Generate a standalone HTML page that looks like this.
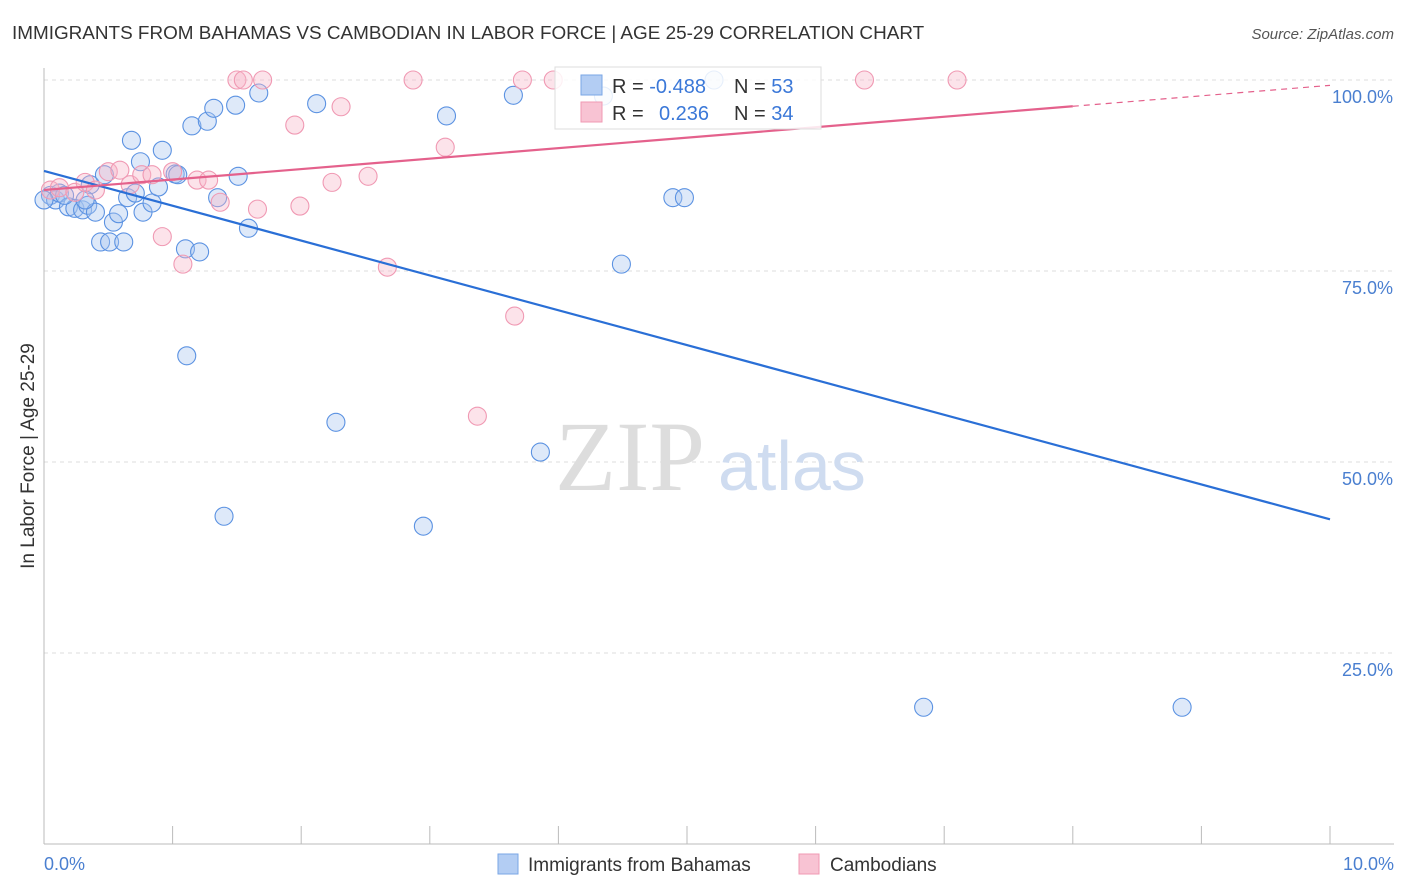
<!DOCTYPE html>
<html><head><meta charset="utf-8"><style>
body{margin:0;background:#fff;font-family:"Liberation Sans",sans-serif;}
svg{display:block}
</style></head><body>
<svg id="chart" width="1406" height="892" xmlns="http://www.w3.org/2000/svg">
<text x="12" y="39" font-size="18.9" fill="#333">IMMIGRANTS FROM BAHAMAS VS CAMBODIAN IN LABOR FORCE | AGE 25-29 CORRELATION CHART</text>
<text x="1394" y="39" font-size="15" fill="#555" font-style="italic" text-anchor="end">Source: ZipAtlas.com</text>
<g id="grid"></g>
<text x="555" y="490" font-size="100" fill="#ddd" font-family="Liberation Serif,serif">ZIP</text>
<text x="718" y="490" font-size="70" fill="#cfdcf0">atlas</text>
<g id="axes"></g>
<g id="marks"></g>
<text x="34" y="456" font-size="19" fill="#333" text-anchor="middle" transform="rotate(-90 34 456)">In Labor Force | Age 25-29</text>
<text x="44" y="870" font-size="18" fill="#4a7fd0">0.0%</text>
<text x="1394" y="870" font-size="18" fill="#4a7fd0" text-anchor="end">10.0%</text>
<g>
<rect x="555" y="67" width="266" height="62" fill="#fff" fill-opacity="0.85" stroke="#ddd"/>
<rect x="581" y="75" width="21" height="20" fill="#b3cdf3" stroke="#7aa6e6"/>
<rect x="581" y="102" width="21" height="20" fill="#f8c3d3" stroke="#f09ab3"/>
<text x="612" y="93" font-size="20" fill="#333">R = <tspan fill="#3b78d8">-0.488</tspan></text>
<text x="734" y="93" font-size="20" fill="#333">N = <tspan fill="#3b78d8">53</tspan></text>
<text x="612" y="120" font-size="20" fill="#333">R = <tspan fill="#3b78d8" x="659">0.236</tspan></text>
<text x="734" y="120" font-size="20" fill="#333">N = <tspan fill="#3b78d8">34</tspan></text>
</g>
<g>
<rect x="498" y="854" width="20" height="20" fill="#b3cdf3" stroke="#7aa6e6"/>
<text x="528" y="871" font-size="19" fill="#333">Immigrants from Bahamas</text>
<rect x="799" y="854" width="20" height="20" fill="#f8c3d3" stroke="#f09ab3"/>
<text x="830" y="871" font-size="19" fill="#333">Cambodians</text>
</g>
</svg>
<script>
const yTicks=[25,50,75,100];
const yTickLabels=["25.0%","50.0%","75.0%","100.0%"];
const xTicks=[0,1,2,3,4,5,6,7,8,9,10];
const blueX=[0.05,0.09,0.12,0.19,0.24,0.30,0.34,0.40,0.36,0.44,0.51,0.62,0.54,0.58,0.47,0.68,0.75,0.65,0.71,0.77,0.84,0.89,0.92,1.02,1.04,1.10,1.21,1.15,1.27,1.32,1.49,1.51,1.59,1.67,1.35,1.11,2.12,2.27,1.40,2.95,3.13,3.65,3.86,4.35,4.49,4.89,4.98,5.21,6.84,8.85,0.16,0.32,0.0];
const blueY=[84.9,84.3,85.2,83.4,83.2,83.0,83.6,82.7,86.3,78.8,78.8,78.8,81.4,82.5,87.6,92.1,89.3,84.6,85.2,82.7,83.9,86.0,90.8,87.7,87.6,77.9,77.5,94.0,94.6,96.3,96.7,87.4,80.6,98.3,84.6,63.9,96.9,55.2,42.9,41.6,95.3,98.0,51.3,97.9,75.9,84.6,84.6,100,17.9,17.9,84.9,84.3,84.3];
const pinkX=[0.05,0.12,0.24,0.32,0.40,0.50,0.59,0.67,0.76,0.84,0.92,1.00,1.08,1.19,1.28,1.37,1.50,1.55,1.66,1.70,1.95,1.99,2.24,2.31,2.52,2.67,2.87,3.12,3.37,3.66,3.72,3.96,6.38,7.10];
const pinkY=[85.6,85.9,85.3,86.6,85.6,88.0,88.2,86.3,87.6,87.6,79.5,88.0,75.9,86.9,86.9,84.0,100,100,83.1,100,94.1,83.5,86.6,96.5,87.4,75.5,100,91.2,56.0,69.1,100,100,100,100];
const blueTrend=[88.1,42.5];
const pinkTrend=[85.6,99.3];
const pinkSolidEnd=8.0;
const NS="http://www.w3.org/2000/svg";
const X=v=>44+v*128.6;
const Y=v=>80+(100-v)*7.64;
function mk(tag,attrs,parent){const e=document.createElementNS(NS,tag);for(const k in attrs)e.setAttribute(k,attrs[k]);parent.appendChild(e);return e;}
const grid=document.getElementById('grid'),axes=document.getElementById('axes'),marks=document.getElementById('marks');
yTicks.forEach((t,i)=>{
 const l=mk('line',{x1:44,x2:1394,y1:Y(t),y2:Y(t),stroke:'#ddd','stroke-dasharray':'4 4'},grid);
 
 
 const tx=mk('text',{x:1393,y:Y(t)+23,'font-size':18,fill:'#4a7fd0','text-anchor':'end'},grid);
 tx.textContent=yTickLabels[i];
 
 
});
const ax=mk('line',{x1:44,x2:1394,y1:844,y2:844,stroke:'#bbb'},axes);


const ay=mk('line',{x1:44,x2:44,y1:68,y2:844,stroke:'#bbb'},axes);


xTicks.forEach(t=>{
 const l=mk('line',{x1:X(t),x2:X(t),y1:826,y2:844,stroke:'#bbb'},axes);
 
 
});
blueX.forEach((x,i)=>{
 const c=mk('circle',{cx:X(x),cy:Y(blueY[i]),r:9,fill:'#a9c6f0','fill-opacity':0.38,stroke:'#5b92e2','stroke-width':1.1},marks);
 
 
});
pinkX.forEach((x,i)=>{
 const c=mk('circle',{cx:X(x),cy:Y(pinkY[i]),r:9,fill:'#f6b6c9','fill-opacity':0.38,stroke:'#f099b3','stroke-width':1.1},marks);
 
 
});
const bl=mk('line',{x1:X(0),y1:Y(blueTrend[0]),x2:X(10),y2:Y(blueTrend[1]),stroke:'#2a6fd6','stroke-width':2.2},marks);


const pAt=v=>pinkTrend[0]+(pinkTrend[1]-pinkTrend[0])*v/10;
const pl=mk('line',{x1:X(0),y1:Y(pinkTrend[0]),x2:X(pinkSolidEnd),y2:Y(pAt(pinkSolidEnd)),stroke:'#e4618c','stroke-width':2.2},marks);


const pd=mk('line',{x1:X(pinkSolidEnd),y1:Y(pAt(pinkSolidEnd)),x2:X(10),y2:Y(pinkTrend[1]),stroke:'#e4618c','stroke-width':1.2,'stroke-dasharray':'6 5'},marks);


</script>
</body></html>
